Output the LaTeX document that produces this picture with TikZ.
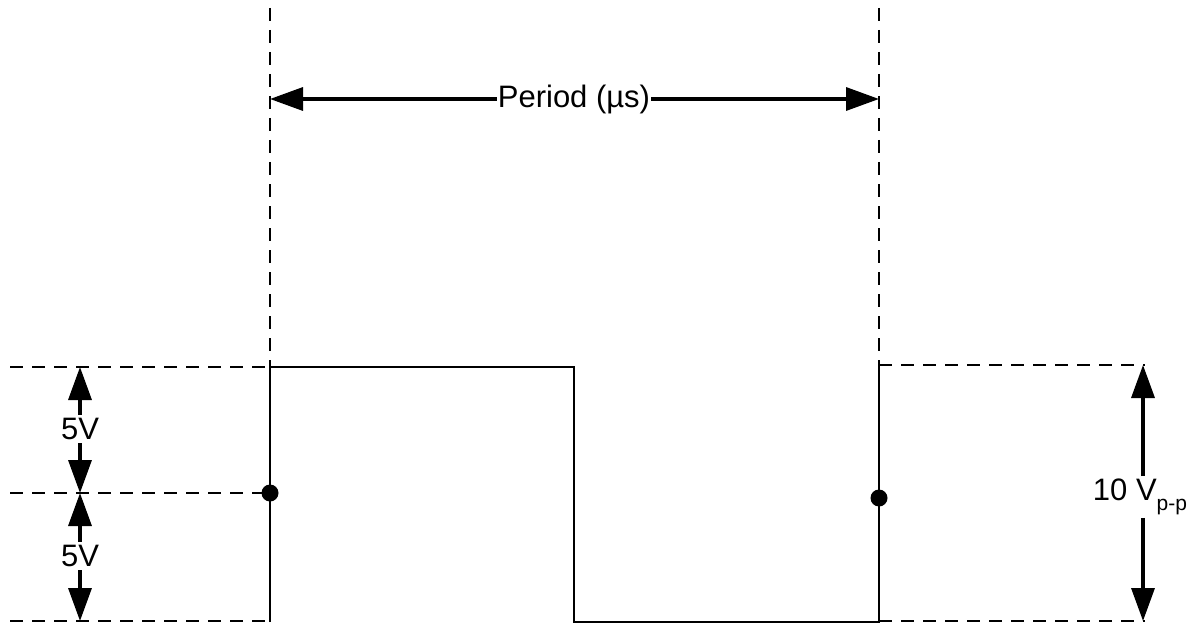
\documentclass[tikz,border=0pt]{standalone}
\usepackage{fontspec}
\setmainfont{Liberation Sans}
\usetikzlibrary{arrows.meta,backgrounds}
\begin{document}
\begin{tikzpicture}[x=1pt,y=-1pt,
  dline/.style={line width=2pt,dash pattern=on 13pt off 9pt},
  wave/.style={line width=2.2pt},
  dim/.style={line width=3.4pt,-{Triangle[length=33pt,width=23pt]}},
  lbl/.style={font=\fontsize{31}{33}\selectfont,inner sep=3pt},
  dot/.style={circle,fill=black,inner sep=0pt,minimum size=17pt}]
\useasboundingbox (0,0) rectangle (1202,623);
% guide lines
\coordinate (lt) at (270,8);
\coordinate (lh) at (270,367);
\coordinate (rt) at (879,8);
\coordinate (rh) at (879,362);
\draw[dline] (lt) -- (lh);
\draw[dline] (rt) -- (rh);
\coordinate (hl) at (10,367);
\coordinate (ml) at (10,493);
\coordinate (mr) at (270,493);
\coordinate (bl) at (10,621);
\coordinate (br) at (270,621);
\draw[dline] (hl) -- (lh);
\draw[dline] (ml) -- (mr);
\draw[dline] (bl) -- (br);
\coordinate (rhs) at (879,365);
\coordinate (rhe) at (1145,365);
\coordinate (rbs) at (879,621);
\coordinate (rbe) at (1145,621);
\draw[dline] (rhs) -- (rhe);
\draw[dline] (rbs) -- (rbe);
% waveform
\coordinate (w0) at (270,622);
\coordinate (w1) at (574,367);
\coordinate (w2) at (574,622);
\coordinate (w3) at (879,622);
\draw[wave] (w0) -- (lh) -- (w1) -- (w2) -- (w3) -- (rh);
\node[dot] (d1) at (270,493) {};
\node[dot] (d2) at (879,498) {};
% period
\node[lbl,inner sep=1pt] (per) at (574,99) {Period (µs)};
\coordinate (pl) at (270,99);
\coordinate (pr) at (879,99);
\draw[dim] (per) -- (pl);
\draw[dim] (per) -- (pr);
% 5V arrows
\node[lbl,fill=white] (v1) at (80,429) {5V};
\node[lbl,fill=white] (v2) at (80,556) {5V};
\coordinate (a1t) at (80,367);
\coordinate (a1b) at (80,493);
\coordinate (a2b) at (80,621);
\begin{scope}[on background layer]
\draw[dim] (v1.north) -- (a1t);
\draw[dim] (v1.south) -- (a1b);
\draw[dim] (v2.north) -- (a1b);
\draw[dim] (v2.south) -- (a2b);
\end{scope}
% 10 Vpp
\node[lbl] (vpp) at (1140,497) {10 V\raisebox{-0.3em}{\fontsize{21}{23}\selectfont p-p}};
\coordinate (pt) at (1143,365);
\coordinate (pb) at (1143,621);
\draw[dim] (vpp.north -| pt) -- (pt);
\draw[dim] (vpp.south -| pt) -- (pb);
\end{tikzpicture}
\end{document}
